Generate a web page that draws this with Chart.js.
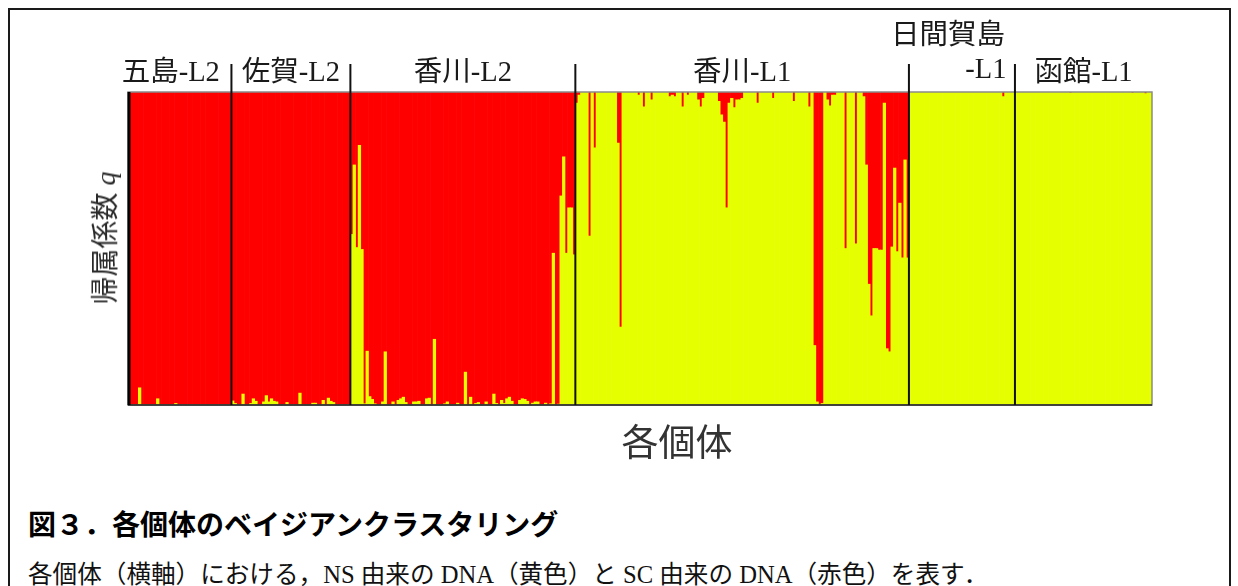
<!DOCTYPE html>
<html lang="ja">
<head>
<meta charset="utf-8">
<title>各個体のベイジアンクラスタリング</title>
<script src="https://cdn.jsdelivr.net/npm/chart.js@4.4.1/dist/chart.umd.min.js"></script>
<style>
  html, body { margin: 0; padding: 0; background: #fff; }
  #page { position: relative; width: 1238px; height: 586px; overflow: hidden; }
  #frame { position: absolute; left: 8px; top: 8px; width: 1219px; height: 620px; border: 2px solid #1a1a1a; }
  #plot { position: absolute; left: 0; top: 0; width: 1238px; height: 470px; }
  .txt { position: absolute; white-space: nowrap; color: #2a2a2a; }
  #ytitle { left: 103px; top: 238px; transform: translate(-50%, -50%) rotate(-90deg);
    font: 28px 'Liberation Serif', 'Noto Sans CJK JP', serif; }
  #ytitle i { font-family: 'Liberation Serif', serif; }
  #xtitle { left: 677px; top: 440px; transform: translate(-50%, -50%);
    font: 37px 'Noto Sans CJK JP', sans-serif; color: #333; }
  #caption { left: 28px; top: 503px; font: bold 28px 'Noto Sans CJK JP', sans-serif; color: #000; }
  #desc { left: 28px; top: 554px; font: 24.6px 'Liberation Serif', 'Noto Sans CJK JP', serif; color: #111; }
</style>
</head>
<body>
<div id="page">
  <div id="frame"></div>
  <div id="plot"><canvas id="chartEstructura"></canvas></div>
  <div class="txt" id="ytitle">帰属係数 <i>q</i></div>
  <div class="txt" id="xtitle">各個体</div>
  <div class="txt" id="caption">図３．各個体のベイジアンクラスタリング</div>
  <div class="txt" id="desc">各個体（横軸）における，NS 由来の DNA（黄色）と SC 由来の DNA（赤色）を表す．</div>
</div>
<script>
// Grupos (etiquetas arriba del gráfico)
var groupLabels = [['五島-L2'], ['佐賀-L2'], ['香川-L2'], ['香川-L1'], ['日間賀島', '-L1'], ['函館-L1']];

// Coeficiente q de origen NS (amarillo) por individuo; el resto es SC (rojo)
var gotoL2 = [
  0, 0, 0, 0, 0.055, 0, 0, 0, 0, 0, 0, 0.02, 0, 0, 0, 0, 0, 0, 0.005, 0,
  0, 0, 0, 0, 0, 0, 0, 0, 0, 0, 0, 0, 0, 0, 0, 0, 0, 0, 0, 0
];
var sagaL2 = [
  0.013, 0.005, 0, 0, 0.035, 0, 0, 0.005, 0.02, 0.012, 0, 0, 0.01, 0.03, 0.01, 0.02,
  0.012, 0.01, 0, 0, 0, 0.008, 0, 0, 0, 0, 0.038, 0, 0, 0, 0, 0.006, 0.006, 0, 0,
  0.015, 0, 0.022, 0.012, 0.008, 0, 0, 0, 0, 0, 0
];
var kagawaL2 = [
  0.545, 0.767, 0.503, 0.83, 0.497, 0.004, 0.172, 0.027, 0.018, 0.004, 0, 0, 0.01, 0.17,
  0, 0, 0.01, 0, 0.015, 0.02, 0.025, 0.008, 0, 0, 0.01, 0.01, 0.012, 0, 0, 0.02, 0.022,
  0, 0.21, 0, 0, 0, 0.004, 0.01, 0, 0, 0, 0.006, 0, 0, 0.105, 0, 0.025, 0, 0.005, 0.008,
  0, 0, 0.01, 0, 0, 0.035, 0.005, 0, 0.015, 0.005, 0.02, 0.025, 0.012, 0, 0, 0.015, 0.02,
  0.018, 0.012, 0, 0.006, 0.01, 0.01, 0, 0, 0.006, 0, 0.004, 0.485, 0, 0.003, 0.668,
  0.793, 0.485, 0.63, 0.63, 0.48
];
var kagawaL1 = [
  0.965, 0.99, 1, 1, 1, 0.54, 1, 0.822, 1, 1, 1, 1, 1, 1, 1, 1, 0.837, 0.249, 1, 1,
  1, 1, 1, 1, 0.99, 1, 0.953, 1, 1, 0.975, 1, 1, 1, 1, 1, 1, 0.985, 0.99, 0.985, 1,
  1, 0.953, 1, 0.99, 1, 1, 1, 0.975, 0.953, 0.98, 1, 1, 1, 1, 1, 0.97, 0.927, 0.904, 0.63, 0.965,
  0.98, 0.95, 0.975, 0.975, 0.98, 1, 1, 1, 1, 1, 0.965, 1, 1, 1, 1, 1, 0.98, 1, 1, 1,
  1, 1, 1, 1, 0.97, 1, 1, 1, 1, 1, 0.953, 1, 0.19, 0.01, 0, 0.005, 1, 0.975, 0.956, 0.99,
  0.99, 1, 1, 1, 0.5, 1, 1, 1, 0.515, 1, 1, 0.985, 0.767, 0.386, 0.285, 0.5, 0.5, 0.495, 0.495, 0.965,
  0.18, 0.17, 0.505, 0.757, 0.49, 0.645, 0.47, 0.783, 0.47
];
var himakaL1 = [
  1, 1, 1, 1, 1, 1, 1, 1, 1, 1, 1, 1, 1, 1, 1, 1, 1, 1, 1, 1,
  1, 1, 1, 1, 1, 1, 1, 1, 1, 1, 1, 1, 1, 1, 1, 1, 0.985, 1, 1, 1, 1
];
var hakodateL1 = [
  1, 1, 1, 1, 1, 1, 1, 1, 1, 1, 1, 1, 1, 1, 1, 1, 1, 1, 1, 1,
  1, 0.997, 1, 1, 1, 1, 1, 1, 1, 1, 1, 1, 1, 1, 1, 1, 1, 1, 1, 1,
  1, 1, 1, 1, 1, 0.997, 1, 1, 1, 1, 0.995, 1, 1
];

var grupos = [gotoL2, sagaL2, kagawaL2, kagawaL1, himakaL1, hakodateL1];

var nsShare = [];
var inicioGrupo = [];
for (var g = 0; g < grupos.length; g++) {
  inicioGrupo.push(nsShare.length);
  nsShare = nsShare.concat(grupos[g]);
}
inicioGrupo.push(nsShare.length);
var scShare = nsShare.map(function (q) { return 1 - q; });
var individuos = nsShare.map(function (q, i) { return String(i + 1); });

var AMARILLO = '#e6ff00';
var ROJO = '#ff0000';

// ─── Marco, separadores y etiquetas de grupo ──────
var labelShift = [-9, 0, 0, 0, -14, 0];
var marcoPlugin = {
  id: 'marco',
  afterDatasetsDraw: function (chart) {
    var ctx = chart.ctx;
    var a = chart.chartArea;
    var xs = chart.scales.x;
    var half = (xs.getPixelForValue(1) - xs.getPixelForValue(0)) / 2;
    ctx.save();

    ctx.strokeStyle = '#8a8a8a';
    ctx.lineWidth = 1.5;
    ctx.strokeRect(a.left, a.top, a.right - a.left, a.bottom - a.top);
    ctx.strokeStyle = '#222';
    ctx.beginPath();
    ctx.moveTo(a.left, a.bottom);
    ctx.lineTo(a.right, a.bottom);
    ctx.stroke();
    ctx.lineWidth = 3;
    ctx.strokeStyle = '#000';
    ctx.beginPath();
    ctx.moveTo(a.left + 1, a.top);
    ctx.lineTo(a.left + 1, a.bottom);
    ctx.stroke();

    // separadores entre grupos
    ctx.lineWidth = 2;
    ctx.strokeStyle = '#111';
    for (var k = 1; k < inicioGrupo.length - 1; k++) {
      var bx = xs.getPixelForValue(inicioGrupo[k]) - half;
      ctx.beginPath();
      ctx.moveTo(bx, 64);
      ctx.lineTo(bx, a.bottom);
      ctx.stroke();
    }

    // etiquetas
    ctx.fillStyle = '#1a1a1a';
    ctx.font = "28.5px 'Liberation Serif', 'Noto Sans CJK JP', serif";
    ctx.textBaseline = 'middle';
    ctx.textAlign = 'center';
    for (var j = 0; j < groupLabels.length; j++) {
      var x0 = xs.getPixelForValue(inicioGrupo[j]) - half;
      var x1 = xs.getPixelForValue(inicioGrupo[j + 1] - 1) + half;
      var cx = (x0 + x1) / 2 + labelShift[j];
      var lineas = groupLabels[j];
      if (lineas.length === 1) {
        ctx.fillText(lineas[0], cx, 74);
      } else {
        ctx.fillText(lineas[0], cx, 37);
        ctx.fillText(lineas[1], cx + 38, 71);
      }
    }
    ctx.restore();
  }
};

new Chart(document.getElementById('chartEstructura'), {
  type: 'bar',
  data: {
    labels: individuos,
    datasets: [{
      label: 'NS',
      data: nsShare,
      backgroundColor: AMARILLO,
      borderWidth: 0,
      barPercentage: 1,
      categoryPercentage: 1
    }, {
      label: 'SC',
      data: scShare,
      backgroundColor: ROJO,
      borderWidth: 0,
      barPercentage: 1,
      categoryPercentage: 1
    }]
  },
  options: {
    responsive: true,
    maintainAspectRatio: false,
    animation: false,
    layout: { padding: { left: 128, right: 86, top: 92, bottom: 65 } },
    plugins: {
      legend: { display: false },
      tooltip: { enabled: false }
    },
    scales: {
      x: { stacked: true, display: false },
      y: { stacked: true, display: false, min: 0, max: 1 }
    }
  },
  plugins: [marcoPlugin]
});
</script>
</body>
</html>
